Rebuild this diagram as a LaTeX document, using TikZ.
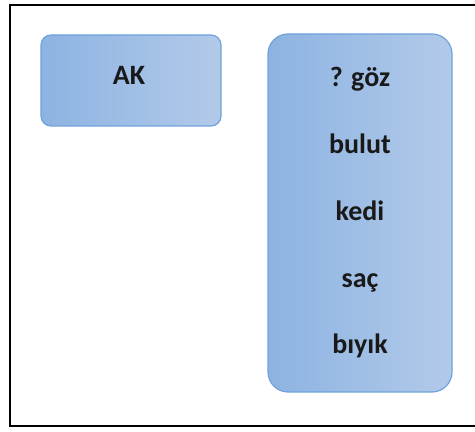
\documentclass[tikz,border=0pt]{standalone}
\usepackage{fontspec}
\setmainfont{Carlito}
\usetikzlibrary{positioning}
\definecolor{boxleft}{HTML}{8DB3E2}
\definecolor{boxright}{HTML}{B2CAE9}
\definecolor{boxedge}{HTML}{6FA2DC}
\tikzset{
  card/.style={rectangle, rounded corners=#1, draw=boxedge, line width=1.2pt,
               left color=boxleft, right color=boxright, inner sep=0pt},
  card/.default=10pt,
  word/.style={font=\fontsize{28}{33}\selectfont\bfseries, text=black!90, anchor=base, inner sep=0pt},
}
\begin{document}
\begin{tikzpicture}[x=1pt, y=1pt]
  \useasboundingbox (0,0) rectangle (475,432);
  \clip (0,0) rectangle (475,432);
  \draw[line width=2pt] (10,6) rectangle (480,427);

  \node[card=10pt, minimum width=180pt, minimum height=91pt] (ak) at (131,351.5) {};
  \node[card=20pt, minimum width=184pt, minimum height=358pt] (list) at (360,219) {};

  \node[word] (akw) at (129,347) {AK};
  \node[word] (goz) at (360,345) {? göz};
  \node[word] (bulut) at (360,278) {bulut};
  \node[word] (kedi) at (360,211) {kedi};
  \node[word] (sac) at (360,144) {saç};
  \node[word] (biyik) at (360,78) {bıyık};
\end{tikzpicture}
\end{document}
